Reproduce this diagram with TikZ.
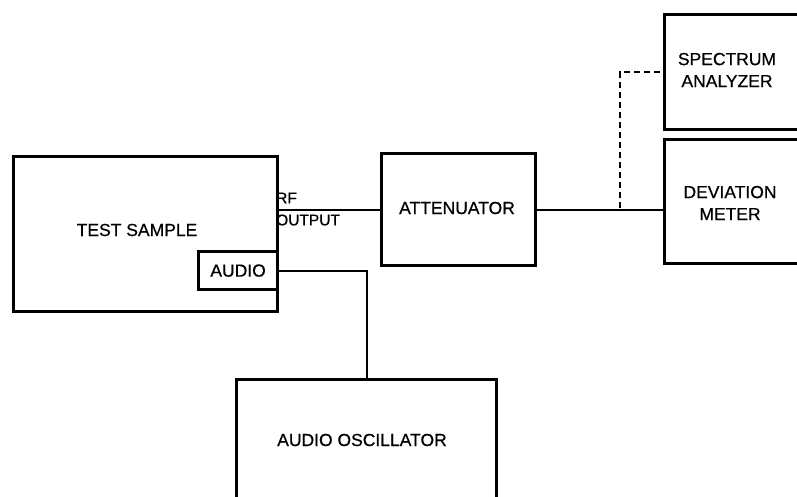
\documentclass[tikz,border=0pt]{standalone}
\usepackage{fontspec}
\setmainfont[FakeBold=0.6]{Liberation Sans}
\begin{document}
\begin{tikzpicture}[x=1pt,y=-1pt,
  box/.style={draw, line width=3.2pt, inner sep=0pt, anchor=north west},
  wire/.style={line width=2.2pt},
  dash wire/.style={line width=1.8pt, dash pattern=on 6pt off 4pt},
  lbl/.style={font=\fontsize{17.5}{22}\selectfont, align=center, inner sep=0pt},
  small lbl/.style={font=\fontsize{15.5}{19}\selectfont, inner sep=0pt, anchor=west}]
\useasboundingbox (0,0) rectangle (797,496);
\clip (0,0) rectangle (797,496);
% boxes
\node[box, minimum width=264, minimum height=155] (ts) at (12,155) {};
\node[box, minimum width=79, minimum height=38] (au) at (197,250) {};
\node[box, minimum width=154, minimum height=112] (att) at (380,152) {};
\node[box, minimum width=150, minimum height=115] (sa) at (663,13) {};
\node[box, minimum width=150, minimum height=124] (dm) at (663,138) {};
\node[box, minimum width=260, minimum height=140] (osc) at (235,378) {};
% texts
\node[lbl] (tst) at (137,230) {TEST SAMPLE};
\node[lbl] (aut) at (au.center) {AUDIO};
\node[small lbl] (rf) at (276,198) {RF};
\node[small lbl] (out) at (276,220) {OUTPUT};
\node[lbl] (attt) at (457,208) {ATTENUATOR};
\node[lbl] (sat) at (727,70) {SPECTRUM\\ANALYZER};
\node[lbl] (dmt) at (730,203) {DEVIATION\\METER};
\node[lbl] (osct) at (362,440) {AUDIO OSCILLATOR};
% connectors
\draw[wire] (ts.east |- att.west) -- (att.west);
\draw[wire] (att.east) -- (att.east -| dm.west);
\coordinate (j) at (620,208);
\draw[dash wire] (j) -- (j |- sa.west) -- (sa.west);
\draw[wire] (au.east) -- (au.east -| osc.north) -- (osc.north);
\end{tikzpicture}
\end{document}
